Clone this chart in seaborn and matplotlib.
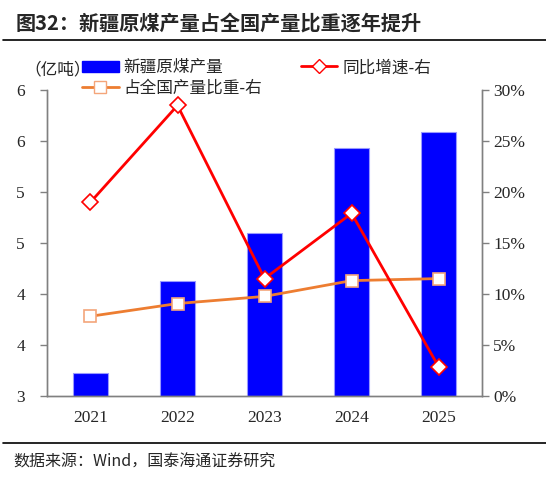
import matplotlib
matplotlib.use('Agg')
import matplotlib.pyplot as plt
import numpy as np
import pandas as pd
import seaborn as sns
from matplotlib.lines import Line2D
from matplotlib.patches import Patch
from matplotlib.ticker import FuncFormatter, MultipleLocator

# data
years = ['2021', '2022', '2023', '2024', '2025']
output = [3.22, 4.13, 4.60, 5.43, 5.59]          # 亿吨, left axis
yoy = [19.0, 28.5, 11.5, 17.9, 2.85]              # %, right axis
share = [7.8, 9.05, 9.75, 11.3, 11.5]             # %, right axis

df = pd.DataFrame({'year': years, 'output': output, 'yoy': yoy, 'share': share})
df['pos'] = np.arange(len(years))

sns.set_style('white')
cjk = ['Noto Sans CJK SC', 'DejaVu Sans']
serif = ['Liberation Serif', 'DejaVu Serif']
plt.rcParams['font.family'] = cjk

fig = plt.figure(figsize=(5.46, 4.82), dpi=100)
ax = fig.add_axes([0.086, 0.179, 0.797, 0.634])

sns.barplot(data=df, x='pos', y='output', color='#0000FF', width=0.4,
            edgecolor='#9999FF', linewidth=0.8, saturation=1, ax=ax)
ax.set_ylim(3, 6)
ax.set_xlim(-0.5, len(years) - 0.5)
ax.yaxis.set_major_locator(MultipleLocator(0.5))
ax.yaxis.set_major_formatter(FuncFormatter(lambda v, p: '%d' % np.floor(v + 0.5)))
ax.set_xticks(np.arange(len(years)))
ax.set_xticklabels(years)
ax.set_xlabel('')
ax.set_ylabel('')

ax2 = ax.twinx()
sns.lineplot(data=df, x='pos', y='share', color='#ED7D31', linewidth=2,
             marker='s', markersize=9, markerfacecolor='white',
             markeredgecolor='#F4A57A', markeredgewidth=1.2, ax=ax2)
sns.lineplot(data=df, x='pos', y='yoy', color='#FF0000', linewidth=2,
             marker='D', markersize=8, markerfacecolor='white',
             markeredgecolor='#FF0000', markeredgewidth=1.2, ax=ax2)
ax2.set_ylim(0, 30)
ax2.yaxis.set_major_locator(MultipleLocator(5))
ax2.yaxis.set_major_formatter(FuncFormatter(lambda v, p: '%d%%' % round(v)))
ax2.set_xlim(-0.5, len(years) - 0.5)
ax2.set_ylabel('')
ax2.set_xlabel('')

# minor ticks at category boundaries on x
ax.set_xticks(np.arange(len(years) + 1) - 0.5, minor=True)
ax.tick_params(axis='x', which='major', length=0, pad=10)
ax.tick_params(axis='x', which='minor', length=5, color='#808080', width=1, direction='out')
ax.tick_params(axis='y', length=5, color='#808080', width=1, direction='out', pad=14)
ax2.tick_params(axis='y', length=5, color='#808080', width=1, direction='out', pad=3)

for a in (ax, ax2):
    a.spines['top'].set_visible(False)
    for s in ('left', 'right', 'bottom'):
        a.spines[s].set_color('#808080')
        a.spines[s].set_linewidth(1)
    for lab in a.get_xticklabels() + a.get_yticklabels():
        lab.set_family(serif)
        lab.set_fontsize(12.5)
for lab in ax.get_yticklabels():
    lab.set_horizontalalignment('center')
ax.grid(False)
ax2.grid(False)

# legend
handles = [
    Patch(facecolor='#0000FF', edgecolor='#0000FF'),
    Line2D([], [], color='#ED7D31', lw=2, marker='s', markersize=8,
           markerfacecolor='white', markeredgecolor='#F4A57A'),
    Line2D([], [], color='#FF0000', lw=2, marker='D', markersize=7,
           markerfacecolor='white', markeredgecolor='#FF0000'),
]
labels = ['新疆原煤产量', '占全国产量比重-右', '同比增速-右']
fig.legend(handles, labels, ncol=2, loc='upper left', bbox_to_anchor=(0.150, 0.877),
           frameon=False, fontsize=12, handlelength=2.2, handletextpad=0.3,
           columnspacing=2.3, labelspacing=0.2, borderpad=0, borderaxespad=0)
fig.text(0.045, 0.855, '（亿吨）', fontsize=12, va='center', ha='left')

# title, rules and source
fig.text(0.028, 0.953, '图32：新疆原煤产量占全国产量比重逐年提升', fontsize=14.5,
         fontweight='bold', va='center', ha='left')
fig.add_artist(Line2D([0.005, 1.0], [0.917, 0.917], color='black', lw=1.2))
fig.add_artist(Line2D([0.005, 1.0], [0.081, 0.081], color='black', lw=1.2))
fig.text(0.025, 0.041, '数据来源：Wind，国泰海通证券研究', fontsize=11.5,
         va='center', ha='left')

fig.savefig('out.png', dpi=100)
